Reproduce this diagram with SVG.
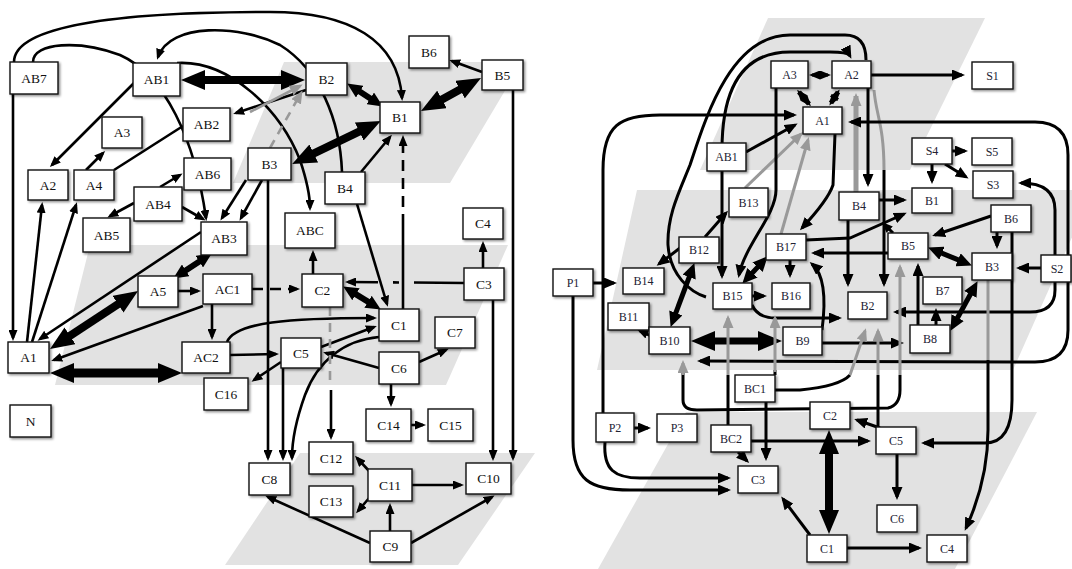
<svg xmlns="http://www.w3.org/2000/svg" width="1072" height="569" viewBox="0 0 1072 569">
<defs>
<style>
.bg{fill:#e2e2e2;stroke:none}
.n rect{fill:#fff;stroke:#111;stroke-width:1.4;filter:url(#sh)}
.n text{font-family:"Liberation Serif",serif;font-size:13.5px;fill:#111;text-anchor:middle;dominant-baseline:central}
.r text{font-size:12px;fill:#223}
.e path{fill:none;stroke:#000;stroke-width:2.6}
.e .t{stroke-width:8}
.e .t6{stroke-width:6}
.e .t5{stroke-width:5}
.e .g{stroke:#999}
.e .gt{stroke:#999;stroke-width:5}
.e .d{stroke-dasharray:11 7}
.e .gd{stroke:#999;stroke-dasharray:9 7}
.e .r{stroke-width:3}
</style>
<filter id="sh" x="-10%" y="-10%" width="130%" height="140%"><feDropShadow dx="1.5" dy="1.5" stdDeviation="1" flood-color="#000" flood-opacity="0.45"/></filter>
<marker id="a" markerUnits="userSpaceOnUse" markerWidth="11" markerHeight="9" refX="8" refY="4.5" orient="auto-start-reverse"><path d="M0,0 L11,4.5 L0,9 Z" fill="#000"/></marker>
<marker id="ag" markerUnits="userSpaceOnUse" markerWidth="13" markerHeight="11" refX="10" refY="5.5" orient="auto-start-reverse"><path d="M0,0 L13,5.5 L0,11 Z" fill="#999"/></marker>
<marker id="ar" markerUnits="userSpaceOnUse" markerWidth="13" markerHeight="11" refX="10" refY="5.5" orient="auto-start-reverse"><path d="M0,0 L13,5.5 L0,11 Z" fill="#000"/></marker>
<marker id="b" markerUnits="userSpaceOnUse" markerWidth="24" markerHeight="20" refX="12" refY="10" orient="auto-start-reverse"><path d="M0,0 L24,10 L0,20 Z" fill="#000"/></marker>
<marker id="m" markerUnits="userSpaceOnUse" markerWidth="15" markerHeight="14" refX="7" refY="7" orient="auto-start-reverse"><path d="M0,0 L15,7 L0,14 Z" fill="#000"/></marker>
</defs>
<rect width="1072" height="569" fill="#fff"/>
<g id="background">
<path class="bg" d="M284,62 L522,62 L450,183 L233,183 Z"/>
<path class="bg" d="M90,245 L508,245 L446,385 L55,385 Z"/>
<path class="bg" d="M300,453 L535,453 L458,565 L225,565 Z"/>
<path class="bg" d="M768,18 L985,18 L910,170 L700,170 Z"/>
<path class="bg" d="M637,190 L1093,190 L1013,370 L597,370 Z"/>
<path class="bg" d="M686,412 L1037,412 L955,569 L598,569 Z"/>
</g>
<g id="connectors" class="e">
<!-- left -->
<path d="M14,62 C14,25 120,12 270,12 C350,12 398,40 402,98" marker-end="url(#a)"/>
<path d="M13,94 L13,338" marker-end="url(#a)"/>
<path d="M33,62 C33,42 80,40 120,55 C165,75 195,140 206,218" marker-end="url(#a)"/>
<path d="M342,172 C340,120 320,70 280,45 C240,25 170,22 158,57" marker-end="url(#a)"/>
<path d="M177,63 C230,60 280,110 300,160 C306,178 310,195 310,208" marker-end="url(#a)"/>
<path class="t" d="M193,80 L293,80" marker-start="url(#b)" marker-end="url(#b)"/>
<path d="M135,82 L52,165" marker-end="url(#a)"/>
<path d="M86,170 L103,153" marker-end="url(#a)"/>
<path d="M114,170 L183,126"/>
<path d="M306,90 L236,113" marker-end="url(#a)"/>
<path d="M160,187 L180,175" marker-end="url(#a)"/>
<path d="M134,203 L110,216" marker-end="url(#a)"/>
<path d="M182,207 L203,219" marker-end="url(#a)"/>
<path d="M246,180 L222,218" marker-end="url(#a)"/>
<path d="M262,180 L241,218" marker-end="url(#a)"/>
<path class="t6" d="M205.1,257.8 L179.9,274.2" marker-start="url(#m)" marker-end="url(#m)"/>
<path d="M201,232 L40,339" marker-end="url(#a)"/>
<path class="t" d="M60,342.4 L128,297.6" marker-start="url(#b)" marker-end="url(#b)"/>
<path d="M203,306 L54,360" marker-end="url(#a)"/>
<path d="M27,342 L42,205" marker-end="url(#a)"/>
<path d="M32,342 L76,205" marker-end="url(#a)"/>
<path d="M178,291 L198,291" marker-end="url(#a)"/>
<path d="M212,304 L212,337" marker-end="url(#a)"/>
<path class="d" d="M252,289 L297,289" marker-end="url(#a)"/>
<path class="t" style="stroke-width:9" d="M62,373 L170,373" marker-start="url(#b)" marker-end="url(#b)"/>
<path d="M227,342 C235,322 290,318 374,318" marker-end="url(#a)"/>
<path d="M230,355 L276,354" marker-end="url(#a)"/>
<path d="M281,362 L254,380" marker-end="url(#a)"/>
<path d="M268,180 L268,458" marker-end="url(#a)"/>
<path d="M283,368 L283,458" marker-end="url(#a)"/>
<path d="M379,337 C345,340 318,360 305,395 C296,420 292,440 292,458" marker-end="url(#a)"/>
<path d="M321,347 L374,327" marker-end="url(#a)"/>
<path d="M379,368 L326,353" marker-end="url(#a)"/>
<path class="t6" d="M350,290.6 L374,305.4" marker-start="url(#m)" marker-end="url(#m)"/>
<path d="M313,274 L313,253" marker-end="url(#a)"/>
<path d="M464,283 L348,282" style="stroke-dasharray:50 15 6 15 40" marker-end="url(#a)"/>
<path d="M483,268 L483,244" marker-end="url(#a)"/>
<path d="M493,300 L493,458" marker-end="url(#a)"/>
<path d="M513,90 L513,458" marker-end="url(#a)"/>
<path d="M403,309 L403,225"/>
<path class="d" d="M403,225 L403,138" marker-end="url(#a)"/>
<path d="M361,172 L390,137" marker-end="url(#a)"/>
<path d="M357,204 L387,304" marker-end="url(#a)"/>
<path class="t" d="M303,158.7 L370,126.3" marker-start="url(#b)" marker-end="url(#b)"/>
<path class="t6" d="M353.9,87.8 L376.1,102.2" marker-start="url(#m)" marker-end="url(#m)"/>
<path class="t" d="M431.5,105.2 L470.5,83.8" marker-start="url(#b)" marker-end="url(#b)"/>
<path d="M482,72 L452,61" marker-end="url(#a)"/>
<path class="gd" d="M270,148 L301,93" marker-end="url(#ag)"/>
<path class="g" d="M250,112 L300,86" marker-end="url(#ag)"/>
<path class="gd" d="M330,307 L330,385"/>
<path d="M331,390 L331,437" marker-end="url(#a)"/>
<path d="M419,362 L446,350" marker-end="url(#a)"/>
<path d="M391,384 L391,404" marker-end="url(#a)"/>
<path d="M411,425 L423,425" marker-end="url(#a)"/>
<path d="M370,472 L357,458" marker-end="url(#a)"/>
<path d="M370,497 L358,511" marker-end="url(#a)"/>
<path d="M412,485 L461,485" marker-end="url(#a)"/>
<path d="M390,531 L390,506" marker-end="url(#a)"/>
<path d="M370,543 L268,497" marker-end="url(#a)"/>
<path d="M411,543 L492,497" marker-end="url(#a)"/>
<!-- right -->
<path class="r" d="M812,75 L828,75" marker-start="url(#a)" marker-end="url(#a)"/>
<path class="t5" d="M799,92 L809,104" marker-start="url(#a)" marker-end="url(#a)"/>
<path class="t5" d="M838,92 L831,103" marker-start="url(#a)" marker-end="url(#a)"/>
<path class="r" d="M871,75 L962,75" marker-end="url(#ar)"/>
<path class="r" d="M746,152 L795,125" marker-end="url(#ar)"/>
<path class="r" d="M603,413 L603,170 C603,125 620,115 660,115 L794,115" marker-end="url(#ar)"/>
<path class="r" d="M573,296 L573,440 C573,480 590,490 630,490 L728,490" marker-end="url(#ar)"/>
<path class="r" d="M605,442 C603,470 615,478 640,478 L728,478" marker-end="url(#ar)"/>
<path class="r" d="M593,283 L614,283" marker-end="url(#ar)"/>
<path class="r" d="M634,428 L648,428" marker-end="url(#ar)"/>
<path class="r" d="M680,248 L659,264" marker-end="url(#ar)"/>
<path class="r" d="M705,237 L726,213" marker-end="url(#ar)"/>
<path class="t5" d="M691.6,270.6 L673.4,319.4" marker-start="url(#m)" marker-end="url(#m)"/>
<path class="r" d="M651,336 L640,331" marker-end="url(#a)"/>
<path class="t" style="stroke-width:7" d="M703,341 L770,341" marker-start="url(#b)" marker-end="url(#b)"/>
<path class="r" d="M752,296 L764,296" marker-end="url(#ar)"/>
<path class="r" d="M790,260 L790,275" marker-end="url(#ar)"/>
<path class="t5" d="M762.3,262.1 L747.7,277.9" marker-start="url(#m)" marker-end="url(#m)"/>
<path class="r" d="M722,276 L722,150 C722,85 745,52 790,52 L830,52 Q848,52 850,56" marker-start="url(#ar)" marker-end="url(#ar)"/>
<path class="r" d="M706,297 C690,292 670,275 668,245 C667,215 680,190 690,165 C705,120 730,35 790,35 L845,35 C860,35 866,45 866,60"/>
<path class="r" d="M868,88 L868,184" marker-end="url(#ar)"/>
<path class="gt" d="M856,192 L856,96" marker-end="url(#ag)"/>
<path class="r g" d="M874,90 C876,115 884,125 884,170"/>
<path class="r" d="M884,170 L884,284" marker-end="url(#ar)"/>
<path class="r" d="M835,134 L833,185 Q828,200 802,228" marker-end="url(#ar)"/>
<path class="r g" d="M745,188 L801,134" marker-end="url(#ag)"/>
<path class="r g" d="M781,234 L808,140" marker-end="url(#ag)"/>
<path class="r" d="M776,88 L776,190 C776,215 745,245 739,275" marker-end="url(#ar)"/>
<path class="r" d="M879,200 L904,200" marker-end="url(#ar)"/>
<path class="r" d="M848,220 L848,284" marker-end="url(#ar)"/>
<path class="r" d="M952,151 L965,151" marker-end="url(#ar)"/>
<path class="r" d="M945,164 L966,177" marker-end="url(#ar)"/>
<path class="r" d="M932,164 L932,181" marker-end="url(#ar)"/>
<path class="r" d="M991,216 L935,235" marker-end="url(#ar)"/>
<path class="r" d="M997,232 L997,246" marker-end="url(#ar)"/>
<path class="t5" d="M935.5,250.6 L964.5,262.4" marker-start="url(#m)" marker-end="url(#m)"/>
<path class="t5" d="M973.7,288.2 L954.3,323.8" marker-start="url(#m)" marker-end="url(#m)"/>
<path class="r" d="M1041,268 L1019,268" marker-end="url(#ar)"/>
<path class="r" d="M936,325 L936,311" marker-end="url(#ar)"/>
<path class="r" d="M918,325 L918,266" marker-end="url(#ar)"/>
<path class="r" d="M822,343 L901,343" marker-end="url(#ar)"/>
<path class="r" d="M888,253 L814,253" marker-end="url(#ar)"/>
<path class="r" d="M806,240 L850,238 L904,214" marker-end="url(#ar)"/>
<path class="r" d="M893,233 L884,224" marker-end="url(#a)"/>
<path class="r" d="M752,305 Q758,318 775,318 L839,318" marker-end="url(#ar)"/>
<path class="r" d="M822,330 C826,300 825,275 812,264" marker-end="url(#ar)"/>
<path class="r" d="M1021,183 Q1055,183 1055,210 L1055,290 Q1055,312 1030,312 L896,312" marker-start="url(#ar)" marker-end="url(#ar)"/>
<path class="r" d="M700,361 L1035,362 Q1068,362 1068,330 L1068,155 Q1068,122 1035,122 L851,122" marker-start="url(#ar)" marker-end="url(#ar)"/>
<path class="r" d="M1012,232 L1012,400 Q1012,443 985,443 L924,443" marker-end="url(#ar)"/>
<path class="r g" d="M988,280 L988,360"/>
<path class="r" d="M988,360 L988,430 Q988,480 966,528" marker-end="url(#ar)"/>
<path class="r" d="M766,402 L766,458" marker-end="url(#ar)"/>
<path class="r" d="M738,452 L747,461" marker-end="url(#ar)"/>
<path class="r" d="M810,535 L783,499" marker-end="url(#ar)"/>
<path class="t" d="M829,442 L829,522" marker-start="url(#b)" marker-end="url(#b)"/>
<path class="r" d="M847,548 L919,548" marker-end="url(#ar)"/>
<path class="r" d="M880,428 L857,420" marker-end="url(#ar)"/>
<path class="r" d="M897,454 L897,497" marker-end="url(#ar)"/>
<path class="r" d="M751,441 L868,441" marker-end="url(#ar)"/>
<path class="r" d="M775,390 L800,390 Q840,386 850,375"/>
<path class="r g" d="M850,375 L865,331" marker-end="url(#ag)"/>
<path class="r" d="M878,427 L878,375"/>
<path class="r g" d="M878,375 L878,331" marker-end="url(#ag)"/>
<path class="r" d="M683,372 L683,400 Q683,410 697,410 L888,408 Q900,405 900,390 L900,375"/>
<path class="r g" d="M900,375 L900,267" marker-end="url(#ag)"/>
<path class="r g" d="M683,375 L683,363" marker-end="url(#ag)"/>
<path class="r" d="M728,425 L728,375"/>
<path class="r g" d="M728,375 L728,318" marker-end="url(#ag)"/>
<path class="r" d="M775,375 L775,370"/>
<path class="r g" d="M775,372 L775,318" marker-end="url(#ag)"/>
</g>
<g id="nodes">
<g id="L-AB7" class="n"><rect x="10" y="62" width="48" height="32"/><text x="34" y="78">AB7</text></g>
<g id="L-AB1" class="n"><rect x="133" y="63" width="47" height="33"/><text x="156.5" y="79.5">AB1</text></g>
<g id="L-B2" class="n"><rect x="306" y="63" width="41" height="32"/><text x="326.5" y="79">B2</text></g>
<g id="L-B6" class="n"><rect x="409" y="36" width="40" height="32"/><text x="429" y="52">B6</text></g>
<g id="L-B5" class="n"><rect x="482" y="60" width="41" height="30"/><text x="502.5" y="75">B5</text></g>
<g id="L-B1" class="n"><rect x="380" y="102" width="40" height="31"/><text x="400" y="117.5">B1</text></g>
<g id="L-AB2" class="n"><rect x="183" y="108" width="47" height="33"/><text x="206.5" y="124.5">AB2</text></g>
<g id="L-A3" class="n"><rect x="102" y="117" width="40" height="31"/><text x="122" y="132.5">A3</text></g>
<g id="L-B3" class="n"><rect x="248" y="148" width="43" height="32"/><text x="269.5" y="164">B3</text></g>
<g id="L-AB6" class="n"><rect x="184" y="158" width="47" height="32"/><text x="207.5" y="174">AB6</text></g>
<g id="L-A2" class="n"><rect x="28" y="170" width="40" height="30"/><text x="48" y="185">A2</text></g>
<g id="L-A4" class="n"><rect x="74" y="170" width="40" height="30"/><text x="94" y="185">A4</text></g>
<g id="L-B4" class="n"><rect x="325" y="172" width="40" height="32"/><text x="345" y="188">B4</text></g>
<g id="L-AB4" class="n"><rect x="134" y="187" width="48" height="34"/><text x="158" y="204">AB4</text></g>
<g id="L-C4" class="n"><rect x="463" y="208" width="40" height="31"/><text x="483" y="223.5">C4</text></g>
<g id="L-ABC" class="n"><rect x="285" y="213" width="50" height="35"/><text x="310" y="230.5">ABC</text></g>
<g id="L-AB5" class="n"><rect x="83" y="218" width="47" height="34"/><text x="106.5" y="235">AB5</text></g>
<g id="L-AB3" class="n"><rect x="201" y="222" width="46" height="33"/><text x="224" y="238.5">AB3</text></g>
<g id="L-C3" class="n"><rect x="464" y="268" width="40" height="32"/><text x="484" y="284">C3</text></g>
<g id="L-AC1" class="n"><rect x="203" y="274" width="49" height="30"/><text x="227.5" y="289">AC1</text></g>
<g id="L-A5" class="n"><rect x="138" y="276" width="40" height="31"/><text x="158" y="291.5">A5</text></g>
<g id="L-C2" class="n"><rect x="302" y="274" width="41" height="33"/><text x="322.5" y="290.5">C2</text></g>
<g id="L-C1" class="n"><rect x="379" y="309" width="40" height="32"/><text x="399" y="325">C1</text></g>
<g id="L-C7" class="n"><rect x="435" y="317" width="40" height="31"/><text x="455" y="332.5">C7</text></g>
<g id="L-C5" class="n"><rect x="281" y="338" width="40" height="30"/><text x="301" y="353">C5</text></g>
<g id="L-A1" class="n"><rect x="8" y="342" width="41" height="31"/><text x="28.5" y="357.5">A1</text></g>
<g id="L-AC2" class="n"><rect x="182" y="342" width="48" height="31"/><text x="206" y="357.5">AC2</text></g>
<g id="L-C6" class="n"><rect x="379" y="352" width="40" height="32"/><text x="399" y="368">C6</text></g>
<g id="L-C16" class="n"><rect x="204" y="378" width="44" height="32"/><text x="226" y="394">C16</text></g>
<g id="L-N" class="n"><rect x="10" y="405" width="41" height="32"/><text x="30.5" y="421">N</text></g>
<g id="L-C14" class="n"><rect x="366" y="409" width="45" height="32"/><text x="388.5" y="425">C14</text></g>
<g id="L-C15" class="n"><rect x="428" y="409" width="45" height="32"/><text x="450.5" y="425">C15</text></g>
<g id="L-C12" class="n"><rect x="309" y="442" width="44" height="32"/><text x="331" y="458">C12</text></g>
<g id="L-C8" class="n"><rect x="249" y="463" width="41" height="32"/><text x="269.5" y="479">C8</text></g>
<g id="L-C10" class="n"><rect x="466" y="463" width="45" height="31"/><text x="488.5" y="478.5">C10</text></g>
<g id="L-C11" class="n"><rect x="368" y="469" width="44" height="32"/><text x="390" y="485">C11</text></g>
<g id="L-C13" class="n"><rect x="309" y="486" width="44" height="31"/><text x="331" y="501.5">C13</text></g>
<g id="L-C9" class="n"><rect x="370" y="531" width="41" height="31"/><text x="390.5" y="546.5">C9</text></g>
<!-- right -->
<g id="R-A3" class="n r"><rect x="771" y="61" width="37" height="27"/><text x="789.5" y="74.5">A3</text></g>
<g id="R-A2" class="n r"><rect x="832" y="61" width="39" height="27"/><text x="851.5" y="74.5">A2</text></g>
<g id="R-S1" class="n r"><rect x="972" y="62" width="41" height="27"/><text x="992.5" y="75.5">S1</text></g>
<g id="R-A1" class="n r"><rect x="803" y="107" width="39" height="27"/><text x="822.5" y="120.5">A1</text></g>
<g id="R-AB1" class="n r"><rect x="707" y="143" width="39" height="28"/><text x="726.5" y="157">AB1</text></g>
<g id="R-S4" class="n r"><rect x="912" y="138" width="40" height="26"/><text x="932" y="151">S4</text></g>
<g id="R-S5" class="n r"><rect x="972" y="138" width="40" height="27"/><text x="992" y="151.5">S5</text></g>
<g id="R-S3" class="n r"><rect x="973" y="171" width="40" height="27"/><text x="993" y="184.5">S3</text></g>
<g id="R-B13" class="n r"><rect x="729" y="188" width="39" height="29"/><text x="748.5" y="202.5">B13</text></g>
<g id="R-B1" class="n r"><rect x="912" y="188" width="40" height="25"/><text x="932" y="200.5">B1</text></g>
<g id="R-B4" class="n r"><rect x="839" y="192" width="40" height="28"/><text x="859" y="206">B4</text></g>
<g id="R-B6" class="n r"><rect x="991" y="205" width="40" height="27"/><text x="1011" y="218.5">B6</text></g>
<g id="R-B17" class="n r"><rect x="766" y="234" width="40" height="26"/><text x="786" y="247">B17</text></g>
<g id="R-B5" class="n r"><rect x="888" y="233" width="40" height="26"/><text x="908" y="246">B5</text></g>
<g id="R-B12" class="n r"><rect x="679" y="237" width="40" height="26"/><text x="699" y="250">B12</text></g>
<g id="R-S2" class="n r"><rect x="1041" y="255" width="30" height="27"/><text x="1057" y="268.5">S2</text></g>
<g id="R-B3" class="n r"><rect x="972" y="253" width="40" height="27"/><text x="992" y="266.5">B3</text></g>
<g id="R-P1" class="n r"><rect x="553" y="269" width="40" height="27"/><text x="573" y="282.5">P1</text></g>
<g id="R-B14" class="n r"><rect x="623" y="268" width="41" height="26"/><text x="643.5" y="281">B14</text></g>
<g id="R-B7" class="n r"><rect x="923" y="277" width="39" height="27"/><text x="942.5" y="290.5">B7</text></g>
<g id="R-B15" class="n r"><rect x="713" y="283" width="39" height="26"/><text x="732.5" y="296">B15</text></g>
<g id="R-B16" class="n r"><rect x="772" y="283" width="38" height="26"/><text x="791" y="296">B16</text></g>
<g id="R-B2" class="n r"><rect x="848" y="292" width="39" height="27"/><text x="867.5" y="305.5">B2</text></g>
<g id="R-B11" class="n r"><rect x="608" y="303" width="41" height="27"/><text x="628.5" y="316.5">B11</text></g>
<g id="R-B10" class="n r"><rect x="649" y="327" width="41" height="27"/><text x="669.5" y="340.5">B10</text></g>
<g id="R-B9" class="n r"><rect x="783" y="327" width="39" height="28"/><text x="802.5" y="341">B9</text></g>
<g id="R-B8" class="n r"><rect x="910" y="325" width="40" height="28"/><text x="930" y="339">B8</text></g>
<g id="R-BC1" class="n r"><rect x="735" y="375" width="40" height="27"/><text x="755" y="388.5">BC1</text></g>
<g id="R-P2" class="n r"><rect x="596" y="413" width="38" height="29"/><text x="615" y="427.5">P2</text></g>
<g id="R-P3" class="n r"><rect x="657" y="414" width="40" height="28"/><text x="677" y="428">P3</text></g>
<g id="R-BC2" class="n r"><rect x="711" y="425" width="40" height="27"/><text x="731" y="438.5">BC2</text></g>
<g id="R-C2" class="n r"><rect x="810" y="402" width="40" height="27"/><text x="830" y="415.5">C2</text></g>
<g id="R-C5" class="n r"><rect x="876" y="427" width="40" height="27"/><text x="896" y="440.5">C5</text></g>
<g id="R-C3" class="n r"><rect x="738" y="466" width="40" height="27"/><text x="758" y="479.5">C3</text></g>
<g id="R-C6" class="n r"><rect x="877" y="505" width="40" height="27"/><text x="897" y="518.5">C6</text></g>
<g id="R-C1" class="n r"><rect x="807" y="535" width="40" height="27"/><text x="827" y="548.5">C1</text></g>
<g id="R-C4" class="n r"><rect x="927" y="535" width="40" height="27"/><text x="947" y="548.5">C4</text></g>
</g>
</svg>
